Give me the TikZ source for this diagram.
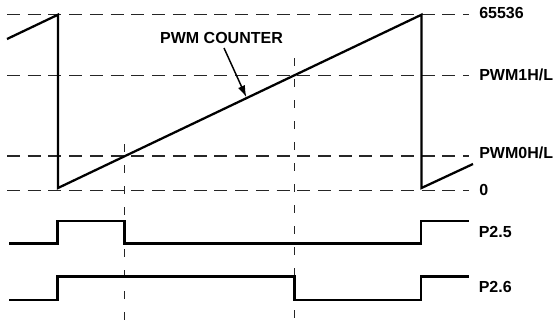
\documentclass[tikz,border=0pt]{standalone}
\usepackage{fontspec}
\setmainfont{Liberation Sans}
\usetikzlibrary{arrows.meta}
\begin{document}
\begin{tikzpicture}[x=0.75pt,y=-0.75pt,
  sig/.style={line width=1.7pt, line join=miter},
  hgrid/.style={line width=1pt, draw=black!85, dash pattern=on 9.75pt off 5.8pt},
  vgrid/.style={line width=1pt, draw=black!85, dash pattern=on 6pt off 9.75pt},
  lbl/.style={font=\bfseries\fontsize{12}{14}\selectfont, inner sep=0pt, anchor=west}]
\useasboundingbox (0,0) rectangle (557,326);
% horizontal level lines
\coordinate (hTa) at (7,14.7);   \coordinate (hTb) at (469,14.7);
\coordinate (h1a) at (7,75.8);   \coordinate (h1b) at (469,75.8);
\coordinate (h0a) at (7,156);    \coordinate (h0b) at (469,156);
\coordinate (hZa) at (7,190.5);  \coordinate (hZb) at (469,190.5);
\draw[hgrid] (hTa) -- (hTb);
\draw[hgrid] (h1a) -- (h1b);
\draw[hgrid] (h0a) -- (h0b);
\draw[hgrid] (hZa) -- (hZb);
% vertical marker lines
\coordinate (v1a) at (124.5,144); \coordinate (v1b) at (124.5,326);
\coordinate (v2a) at (294.5,58);  \coordinate (v2b) at (294.5,326);
\draw[vgrid] (v1a) -- (v1b);
\draw[vgrid] (v2a) -- (v2b);
% labels
\node[lbl] (l65536) at (479,12.5) {65536};
\node[lbl] (lpwm1) at (479,75) {PWM1H/L};
\node[lbl] (lpwm0) at (479,153) {PWM0H/L};
\node[lbl] (lzero) at (479,190) {0};
\node[lbl] (lp25) at (478.5,231.7) {P2.5};
\node[lbl] (lp26) at (478.5,287.3) {P2.6};
\node[font=\bfseries\fontsize{12}{14}\selectfont, inner sep=0pt] (lcnt) at (221.5,38) {PWM COUNTER};
% sawtooth counter
\coordinate (s0) at (7,39);
\coordinate (s1) at (58,14.7);
\coordinate (s2) at (58,188);
\coordinate (s3) at (421.5,14.7);
\coordinate (s4) at (421.5,188);
\coordinate (s5) at (473,164);
\draw[sig] (s0) -- (s1) -- (s2) -- (s3) -- (s4) -- (s5);
% arrow to counter
\coordinate (atip) at (246.5,97.5);
\draw[line width=1.1pt, -{Latex[length=9pt,width=5.5pt]}] (224,48) -- (atip);
% P2.5
\coordinate (a0) at (9,243.5);
\coordinate (a1) at (57.5,243.5);
\coordinate (a2) at (57.5,221);
\coordinate (a3) at (124.5,221);
\coordinate (a4) at (124.5,243.5);
\coordinate (a5) at (421,243.5);
\coordinate (a6) at (421,221);
\coordinate (a7) at (468.5,221);
\draw[sig] (a0) -- (a1) -- (a2) -- (a3) -- (a4) -- (a5) -- (a6) -- (a7);
% P2.6
\coordinate (b0) at (9,300);
\coordinate (b1) at (57.5,300);
\coordinate (b2) at (57.5,276.5);
\coordinate (b3) at (294.5,276.5);
\coordinate (b4) at (294.5,300);
\coordinate (b5) at (421,300);
\coordinate (b6) at (421,276.5);
\coordinate (b7) at (468.5,276.5);
\draw[sig] (b0) -- (b1) -- (b2) -- (b3) -- (b4) -- (b5) -- (b6) -- (b7);
\end{tikzpicture}
\end{document}
